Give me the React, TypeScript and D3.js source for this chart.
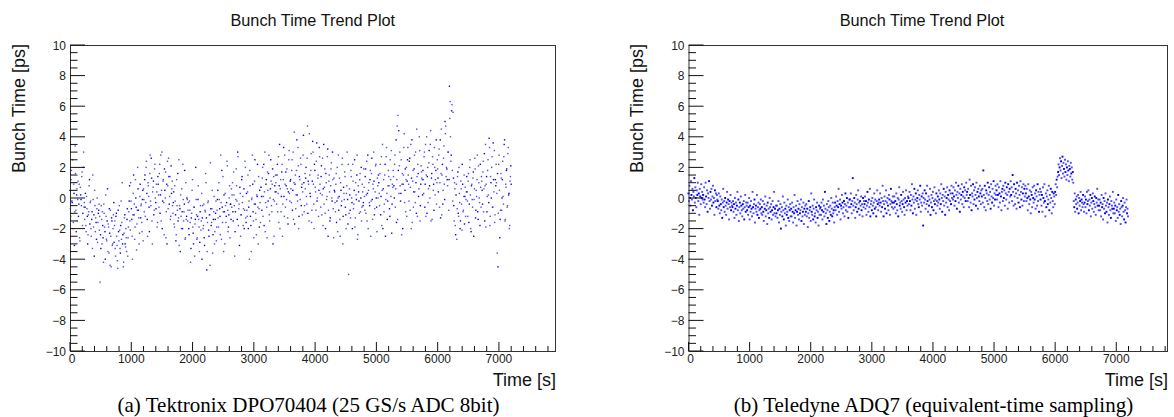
import React from "react";
import * as d3 from "d3";

// Sampling step (s) of each trend series
const TEK_DT = 12;
const ADQ_DT = 8;

// Bunch time values in units of 0.1 ps, samples at t = i*12 s
const tekValues: number[] = [
  5,-12,18,-3,-20,9,-31,34,-8,2,-15,11,-4,-26,7,-1,14,-18,20,-6,
  -14,3,-22,-7,-30,-11,8,-17,-2,-25,-9,15,-19,-38,-5,-13,-27,0,-16,-8,
  -21,-55,-33,-14,-9,-26,-4,-19,-40,-12,-28,6,-17,-36,-23,-8,-45,-15,-30,-11,
  -29,-15,-38,-10,-31,-46,-22,-5,-33,-18,-27,10,-24,-42,-13,-30,-20,-35,-7,-26,
  -9,8,-21,-2,-14,-40,3,-11,-27,12,-6,-17,20,-8,-30,1,-13,-4,-22,5,
  6,-9,15,-3,24,-14,10,1,-22,28,-5,13,-30,7,-11,19,0,-7,4,-16,
  9,-6,22,2,-15,30,-2,12,-24,5,17,-9,-30,8,26,-4,14,-12,3,11,
  -10,4,-19,-2,-28,12,-8,-15,25,-5,-35,-12,6,-20,-1,-9,18,-26,-14,0,
  -15,-3,-24,-8,-42,-13,5,-19,-30,-6,-17,20,-11,-26,-1,-14,-35,-9,-21,3,
  -13,-20,-4,-31,-9,10,-47,-16,-2,-25,-11,23,-18,-7,-36,-14,1,-22,-10,-28,
  -8,5,-19,-1,-12,28,-27,-6,14,-35,-9,3,-16,-3,21,-22,-11,8,-4,-14,
  -6,10,-15,2,-38,-9,19,-2,30,-18,-4,7,-25,-11,14,1,-7,-20,24,-13,
  3,-12,15,-6,-40,8,-18,-1,28,-9,-26,11,-4,-14,2,22,-30,-7,5,-16,
  7,-8,20,1,-18,30,-3,12,-26,5,16,-11,0,25,-5,9,-30,14,-2,4,
  10,-4,22,3,-16,35,6,-9,17,-25,12,1,28,-6,8,19,-13,4,31,-2,
  12,-3,25,5,-14,43,9,-7,18,2,33,-20,14,-1,22,7,-11,28,10,-5,
  6,20,-4,47,11,-15,15,1,29,-8,37,9,-20,18,4,24,-2,13,-12,33,
  9,-6,21,2,-18,35,7,-10,16,-1,27,-25,11,4,-13,19,0,30,-7,13,
  4,-9,16,-2,-22,28,1,-14,10,-5,22,-30,7,-1,14,-11,3,30,-17,-50,
  6,-8,18,0,-20,11,-4,25,-13,2,15,-27,8,-2,12,-9,20,-6,4,-3,
  7,-8,19,2,-15,28,5,-3,12,-25,16,-1,9,30,-11,4,22,-6,13,0,
  10,-5,22,1,-18,35,6,-9,15,-25,27,3,-2,18,8,-12,12,31,-4,7,
  14,0,28,6,-16,47,54,44,21,8,3,-24,16,9,33,-3,19,12,-12,25,
  15,-2,26,7,-20,38,11,-6,19,4,30,-10,14,22,1,40,-15,9,17,12,
  18,3,30,9,-12,40,14,-3,23,8,35,-15,16,27,5,-8,20,12,38,10,
  19,4,32,10,-13,45,15,-4,26,9,50,47,20,12,30,-8,73,63,24,57,
  18,56,-5,10,-18,2,-27,14,-10,20,-3,-15,6,-21,9,-8,15,1,-12,4,
  4,-12,16,-4,25,-20,8,-1,13,-25,6,19,-8,1,28,-14,10,-3,22,-6,
  11,-4,24,6,-15,35,9,-9,18,2,39,-18,14,0,27,-6,12,31,-11,8,
  10,-36,-45,22,5,-14,16,-8,12,1,27,38,-14,7,19,-5,33,3,-18,14,
  9,
];

// Same series, intermediate samples at t = i*12 + 6 s (0.1 ps units)
const tekValuesMid: number[] = [
  -7,12,-2,25,-16,3,-9,16,-22,6,-1,-12,9,-28,2,-5,17,-10,30,-3,
  -6,-18,1,-12,-24,-9,12,-3,-20,-14,-33,-1,-11,5,-22,-16,-7,-29,-10,-4,
  -12,-24,-5,-30,-18,-42,-10,-22,2,-27,-15,-35,-19,-7,-44,-25,-13,-31,-20,-3,
  -18,-33,-12,-25,-41,-8,-28,-21,-36,-2,-16,-30,-45,-23,-11,-32,-26,-14,-38,-19,
  -2,-15,10,-7,-25,-11,15,-4,-19,0,-34,-8,6,-13,-23,9,-5,-16,-1,-28,
  -1,12,-12,20,3,-25,8,-6,16,-2,26,-15,4,11,-8,22,-3,9,-19,14,
  2,16,-10,28,5,-20,11,-3,19,0,-26,9,24,-7,14,1,-14,21,6,-5,
  -3,-17,8,-11,-24,-5,16,-13,-31,-7,2,-20,-9,22,-15,-4,-27,10,-12,-1,
  -8,-20,-2,-16,-33,-10,12,-23,-6,-38,-14,-1,-27,-12,8,-19,-29,-5,-15,-40,
  -5,-18,-26,-8,16,-13,-35,-3,-21,-11,-44,-7,-16,5,-24,-9,-30,-14,-2,-19,
  -1,-13,10,-7,-24,-3,18,-16,-9,2,-30,-5,-12,24,-8,-19,0,-26,-4,6,
  2,-9,17,-5,-22,-1,8,-14,27,-7,-31,3,-11,12,-3,-18,6,-8,20,-16,
  -8,4,-20,-2,18,-12,-35,0,9,-15,-4,25,-10,-24,1,-6,14,-19,-3,7,
  1,13,-12,22,4,-22,9,-6,17,-2,28,-15,6,11,-9,19,-1,-25,8,15,
  4,15,-9,27,8,-20,12,1,22,-4,33,-12,9,17,-1,6,-17,25,3,11,
  6,18,-8,30,10,-17,15,2,38,-2,21,-12,12,26,-5,9,4,41,-9,16,
  13,1,26,-10,9,42,3,18,-16,11,30,-4,22,7,-8,36,0,15,5,27,
  3,14,-11,26,6,-4,19,-20,10,1,32,-8,15,-15,8,23,-2,12,-26,5,
  -3,9,-16,20,0,-8,13,-25,5,-2,26,-12,3,17,-6,-20,8,-1,22,-10,
  2,-13,14,-3,22,-7,5,-19,10,-1,28,-24,4,-10,16,0,-15,9,-5,19,
  1,14,-10,24,3,-20,10,-5,18,-2,26,-14,6,11,-7,21,0,-22,8,15,
  3,16,-11,27,5,-20,12,-4,22,-1,33,-14,8,14,-7,25,1,-23,9,18,
  8,22,-6,38,12,-14,18,3,30,-2,25,9,-20,15,42,5,-9,20,11,33,
  9,24,-8,35,13,-16,18,4,28,-3,10,45,-12,16,6,31,-5,21,13,2,
  12,27,-6,35,15,-10,20,6,31,0,44,13,-14,22,9,33,2,18,-4,25,
  13,28,-6,38,16,-11,22,5,34,-1,42,14,19,8,30,12,52,40,28,61,
  -2,13,-15,6,-24,9,-7,17,-12,3,-20,11,-4,22,-9,1,-17,7,-1,14,
  -2,11,-16,20,2,-22,9,-6,17,-1,26,-13,5,12,-9,21,0,-18,7,14,
  5,17,-9,29,8,-19,14,1,25,-3,33,-12,10,20,-6,36,4,-16,12,22,
  3,16,-10,28,-26,-8,13,0,24,-4,35,-15,9,18,-6,29,2,-20,11,21,
];

// Bunch time values in units of 0.1 ps, samples at t = i*8 s
const adqValues: number[] = [
  3,-2,8,0,-5,11,2,-1,6,-8,4,1,13,-3,7,0,-6,5,2,10,-2,3,-11,6,1,-4,9,0,4,-1,
  2,-3,7,-1,-6,10,1,-4,5,-9,3,0,11,-2,-7,4,-1,6,-5,1,8,-3,0,-11,5,-2,3,-6,2,-1,
  -2,-7,3,-5,-10,1,-4,-8,-1,-13,-3,6,-6,-2,-9,0,-5,-11,-3,4,-7,-1,-4,-14,-2,-6,2,-8,-3,-5,
  -6,-2,-9,-4,-13,0,-7,-3,-11,-5,4,-8,-1,-15,-6,-3,-10,1,-5,-8,-12,-4,-7,-2,-14,-6,2,-9,-3,-5,
  -8,-3,-11,-6,0,-14,-5,-9,-2,-7,-12,4,-6,-10,-4,-1,-16,-7,-5,-9,2,-11,-6,-3,-13,-8,-4,-7,-1,-10,
  -6,-11,-2,-9,-15,-4,-7,1,-12,-8,-5,-17,-3,-10,-7,-13,0,-6,-9,-4,-14,-8,-2,-11,-6,4,-10,-7,-12,-5,
  -10,-5,-13,-8,-2,-16,-7,-11,-4,-20,-9,-6,-12,1,-8,-14,-3,-10,-7,-18,-5,-11,-9,-1,-13,-6,-15,-8,-4,-12,
  -7,-12,-3,-9,-16,-6,-10,2,-13,-8,-5,-18,-9,-2,-11,-7,-14,-4,-10,-8,-1,-15,-6,-12,-9,-3,-17,-7,-11,-5,
  -9,-4,-12,-7,-19,-10,-2,-13,-8,-6,-15,3,-9,-11,-5,-14,-7,-1,-12,-10,-16,-6,-8,-3,-13,-9,-18,-5,-11,-7,
  -6,-11,-3,-8,-14,-1,-9,-5,-12,4,-7,-10,-17,-4,-8,-13,-2,-6,-15,-9,-5,-11,0,-7,-12,-3,-10,-8,-16,-6,
  -3,-8,1,-5,-11,-2,-6,6,-9,-4,-1,-14,-5,-7,2,-3,-10,-6,-2,-12,-4,3,-8,-5,0,-9,-3,-13,-6,-1,
  -1,-6,3,-4,-10,-2,13,-5,-8,0,-3,-13,-6,2,-4,-9,-1,5,-7,-3,-11,-2,-5,1,-8,-4,-12,0,-6,-2,
  -4,1,-7,-2,-11,-5,4,-3,-9,-1,-6,6,-12,-4,-2,-8,0,-5,-10,-3,3,-7,-1,-6,-12,-2,5,-4,-8,-3,
  -1,-5,3,-3,-9,0,-6,8,-2,-12,-4,1,-7,-2,5,-10,-3,0,-5,-8,2,-1,-11,-4,6,-2,-6,-3,1,-7,
  -3,1,-6,-2,-10,3,-4,-8,0,-12,-1,7,-5,-3,-7,2,-2,-9,-4,4,-1,-6,-11,0,-3,5,-8,-2,-5,1,
  0,-4,4,-2,-8,2,-5,9,-1,-10,1,-3,6,-7,-1,3,-11,-2,0,5,-4,-6,2,-1,8,-9,-3,1,-5,3,
  -18,0,-3,5,-1,-7,3,-4,8,-2,-9,1,-5,-1,6,-11,-3,2,-6,0,4,-8,-2,7,-4,-1,-10,3,-2,-5,
  1,-3,5,-1,-7,3,-4,9,0,-9,2,-2,6,-5,1,-11,4,-3,0,7,-6,2,-1,-8,5,-2,3,-4,8,0,
  3,-1,7,1,-5,5,-2,10,2,-7,4,0,8,-3,3,-9,6,-1,2,9,-4,4,1,-6,7,0,5,-2,10,2,
  4,-2,6,0,-6,12,2,-3,8,-8,3,1,9,-4,5,-1,7,2,-5,10,0,4,-7,6,1,-2,8,3,-4,5,
  1,6,-3,18,2,-6,8,0,-8,5,3,-2,10,-4,2,7,-1,4,-7,9,1,-3,6,0,11,-5,3,-1,8,2,
  5,-1,9,2,-6,7,3,-3,11,1,-8,4,6,-2,8,0,5,-5,10,3,-1,7,2,-7,9,4,-3,6,1,11,
  2,7,-2,15,4,-5,9,1,-4,6,3,-7,10,0,5,-3,8,2,-6,11,4,-1,7,-5,3,9,-2,6,1,8,
  3,-2,6,0,-8,9,1,-4,5,-1,-10,4,2,-6,7,0,-3,8,-1,3,-7,5,1,-5,9,-2,4,-9,2,6,
  -1,4,-5,2,-9,7,0,-3,9,-2,-12,3,-6,1,5,-4,-1,8,-8,2,-3,6,0,-10,4,-2,-6,3,1,-4,
  4,9,2,12,7,14,17,22,15,20,26,18,24,13,21,27,16,23,19,14,25,17,22,12,20,15,24,18,11,21,
  19,14,23,16,20,12,17,10,-2,-6,3,-9,-1,-4,1,-7,-3,2,-10,0,-5,-2,4,-8,-1,-3,-6,2,-4,-9,
  -3,1,-6,-1,-10,4,-4,-2,5,-8,-1,-5,2,-12,-3,0,-7,3,-2,-9,-4,1,-6,-11,0,-3,6,-5,-1,-8,
  -5,-1,-8,-3,-12,2,-6,-4,-14,0,-7,-2,-10,3,-5,-9,-3,-16,-1,-6,-11,-4,1,-8,-13,-2,-5,-7,4,-10,
  -7,-3,-10,-5,-15,-1,-8,-6,-13,2,-9,-4,-11,-7,-17,-2,-6,-12,-5,0,-9,-14,-3,-8,-16,-6,-1,-10,-7,-12,
];

const Y_MAJOR = [-10, -8, -6, -4, -2, 0, 2, 4, 6, 8, 10];
const X_MAJOR = [0, 1000, 2000, 3000, 4000, 5000, 6000, 7000];
const TITLE = "Bunch Time Trend Plot";
const X_TITLE = "Time [s]";
const Y_TITLE = "Bunch Time [ps]";
const CAPTION_A = "(a) Tektronix DPO70404 (25 GS/s ADC 8bit)";
const CAPTION_B = "(b) Teledyne ADQ7 (equivalent-time sampling)";

const SANS = "'Liberation Sans', Arial, Helvetica, sans-serif";
const SERIF = "'Liberation Serif', 'Times New Roman', serif";

type Pt = { t: number; v: number };

type PanelProps = {
  left: number;
  right: number;
  xMax: number;
  points: Pt[];
  dot: number;
  titleX: number;
  caption: string;
  captionX: number;
};

function fmt(v: number) {
  return v < 0 ? "\u2212" + Math.abs(v) : String(v);
}

function Panel({ left, right, xMax, points, dot, titleX, caption, captionX }: PanelProps) {
  const top = 45;
  const bottom = 351;
  const x = d3.scaleLinear().domain([0, xMax]).range([left, right]);
  const y = d3.scaleLinear().domain([-10, 10]).range([bottom, top]);
  const yMinor = d3.range(-10, 10.001, 0.5).filter((v) => Math.abs(v % 2) > 1e-6);
  const xMinor = d3.range(0, xMax, 200).filter((v) => v % 1000 !== 0);
  return (
    <g>
      <text x={titleX} y={26} textAnchor="middle" fontFamily={SANS} fontSize={16.3} fill="#111">
        {TITLE}
      </text>
      {points.map((p, i) => (
        <rect
          key={i}
          x={x(p.t) - dot / 2}
          y={y(p.v) - dot / 2}
          width={dot}
          height={dot}
          fill="#0000ff"
          fillOpacity={i % 3 === 0 ? 1 : 0.7}
        />
      ))}
      <rect x={left + 0.5} y={top + 0.5} width={right - left} height={bottom - top} fill="none" stroke="#333" strokeWidth={1} />
      {Y_MAJOR.map((v) => (
        <g key={"ym" + v}>
          <line x1={left} x2={left + 15} y1={y(v)} y2={y(v)} stroke="#111" strokeWidth={1} />
          <text x={left - 4} y={y(v) + 4.5} textAnchor="end" fontFamily={SANS} fontSize={12} fill="#222">
            {fmt(v)}
          </text>
        </g>
      ))}
      {yMinor.map((v) => (
        <line key={"yn" + v} x1={left} x2={left + 7.5} y1={y(v)} y2={y(v)} stroke="#111" strokeWidth={1} />
      ))}
      {X_MAJOR.map((v) => (
        <g key={"xm" + v}>
          <line x1={x(v)} x2={x(v)} y1={bottom} y2={bottom - 9} stroke="#111" strokeWidth={1} />
          <text x={x(v) + (v === 0 ? 2 : 0)} y={363} textAnchor="middle" fontFamily={SANS} fontSize={12} fill="#222">
            {v}
          </text>
        </g>
      ))}
      {xMinor.map((v) => (
        <line key={"xn" + v} x1={x(v)} x2={x(v)} y1={bottom} y2={bottom - 5} stroke="#111" strokeWidth={1} />
      ))}
      <text x={right + 1} y={386} textAnchor="end" fontFamily={SANS} fontSize={18} fill="#111">
        {X_TITLE}
      </text>
      <text
        transform={`translate(${left - 45.5},44) rotate(-90)`}
        textAnchor="end"
        fontFamily={SANS}
        fontSize={18}
        fill="#111"
      >
        {Y_TITLE}
      </text>
      <text x={captionX} y={412} textAnchor="middle" fontFamily={SERIF} fontSize={21} fill="#000">
        {caption}
      </text>
    </g>
  );
}

export default function App() {
  const tekPoints: Pt[] = [
    ...tekValues.map((v, i) => ({ t: i * TEK_DT, v: v / 10 })),
    ...tekValuesMid.map((v, i) => ({ t: i * TEK_DT + TEK_DT / 2, v: v / 10 })),
  ];
  const adqPoints: Pt[] = adqValues.map((v, i) => ({ t: i * ADQ_DT, v: v / 10 }));
  return (
    <svg
      width={1174}
      height={417}
      style={{ position: "absolute", left: 0, top: 0, background: "#fff" }}
    >
      <Panel left={70} right={555} xMax={7915} points={tekPoints} dot={1.4} titleX={312.8} caption={CAPTION_A} captionX={308.5} />
      <Panel left={688.5} right={1167} xMax={7830} points={adqPoints} dot={1.9} titleX={922} caption={CAPTION_B} captionX={933.5} />
    </svg>
  );
}
